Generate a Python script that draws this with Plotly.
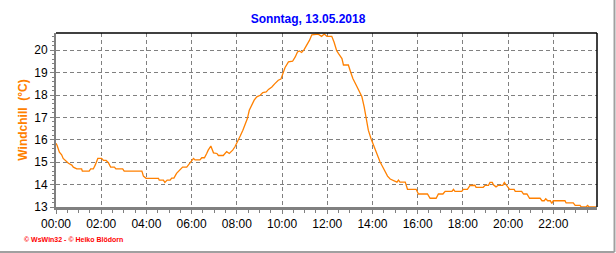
import plotly.graph_objects as go

# Time of day (minutes since midnight) and windchill values (°C)
minutes = [0, 3, 9, 15, 19, 27, 33, 42, 46, 55, 68, 70, 88, 92, 99, 104, 111, 121, 126, 133,
           139, 145, 155, 159, 177, 181, 228, 232, 239, 272, 274, 285, 289, 295, 303, 307, 313,
           320, 329, 336, 347, 356, 365, 369, 382, 387, 394, 400, 404, 411, 418, 427, 431, 444,
           453, 460, 469, 475, 481, 489, 496, 502, 508, 513, 520, 526, 533, 542, 549, 558, 564,
           573, 581, 590, 597, 602, 608, 617, 628, 635, 641, 646, 652, 659, 667, 673, 679, 696,
           705, 712, 719, 732, 738, 745, 750, 759, 763, 776, 782, 788, 797, 805, 812, 818, 823,
           829, 836, 841, 847, 853, 860, 867, 873, 880, 887, 896, 905, 909, 913, 927, 933, 956,
           962, 986, 993, 1009, 1015, 1027, 1033, 1051, 1055, 1059, 1077, 1081, 1092, 1099, 1112,
           1115, 1134, 1139, 1148, 1152, 1158, 1161, 1168, 1174, 1186, 1190, 1195, 1198, 1204,
           1216, 1219, 1236, 1241, 1250, 1257, 1285, 1290, 1296, 1300, 1305, 1312, 1316, 1320,
           1351, 1354, 1373, 1378, 1391, 1394, 1407, 1411, 1415, 1435]
windchill = [15.85, 15.75, 15.45, 15.33, 15.17, 15.02, 14.95, 14.87, 14.78, 14.7, 14.7, 14.6,
             14.6, 14.7, 14.7, 14.87, 15.17, 15.17, 15.08, 15.08, 14.98, 14.78, 14.78, 14.7,
             14.7, 14.6, 14.6, 14.38, 14.28, 14.28, 14.2, 14.2, 14.1, 14.2, 14.2, 14.29, 14.29,
             14.5, 14.68, 14.78, 14.78, 15.0, 15.17, 15.1, 15.1, 15.2, 15.2, 15.39, 15.54, 15.72,
             15.42, 15.39, 15.3, 15.3, 15.47, 15.39, 15.54, 15.69, 15.87, 16.17, 16.43, 16.66,
             16.95, 17.32, 17.55, 17.77, 17.92, 17.99, 18.11, 18.14, 18.25, 18.36, 18.51, 18.66,
             18.71, 18.96, 19.23, 19.48, 19.51, 19.7, 19.92, 19.97, 19.9, 20.04, 20.27, 20.45,
             20.69, 20.72, 20.62, 20.72, 20.62, 20.62, 20.37, 19.98, 19.85, 19.63, 19.34, 19.34,
             19.03, 18.74, 18.44, 18.14, 17.92, 17.47, 16.95, 16.43, 16.06, 15.84, 15.54, 15.27,
             15.02, 14.8, 14.57, 14.38, 14.25, 14.17, 14.11, 14.2, 14.11, 14.11, 13.79, 13.79,
             13.58, 13.58, 13.39, 13.39, 13.58, 13.58, 13.7, 13.7, 13.79, 13.7, 13.7, 13.79,
             13.79, 13.96, 13.97, 13.88, 13.88, 13.97, 13.97, 14.1, 14.1, 13.99, 13.9, 13.97,
             13.97, 14.1, 13.97, 13.9, 13.79, 13.79, 13.7, 13.7, 13.58, 13.58, 13.39, 13.39,
             13.28, 13.28, 13.37, 13.28, 13.28, 13.16, 13.28, 13.28, 13.18, 13.18, 13.07, 13.07,
             13.0, 13.0, 13.07, 13.0, 13.0]

tick_minutes = list(range(0, 1440, 120))
tick_labels = [f"{m // 60:02d}:00" for m in tick_minutes]
y_ticks = [13, 14, 15, 16, 17, 18, 19, 20]

title_text = "Sonntag, 13.05.2018"
y_title = "Windchill  (°C)"
footer = "© WsWin32 - © Heiko Blödorn"

fig = go.Figure()
fig.add_trace(go.Scatter(x=minutes, y=windchill, mode="lines",
                         line=dict(color="#FF8000", width=1.3), hoverinfo="skip"))

fig.update_layout(
    width=616, height=253,
    margin=dict(l=56, r=19, t=33, b=46),
    paper_bgcolor="white", plot_bgcolor="white",
    showlegend=False,
    font=dict(family="Liberation Sans, Arial", size=12, color="black"),
    title=dict(text=f"<b>{title_text}</b>", x=0.5, xanchor="center", y=1 - 19 / 253,
               yanchor="middle", font=dict(size=12, color="#0000FF")),
)

fig.update_xaxes(
    range=[0, 1436], tickvals=tick_minutes, ticktext=tick_labels,
    showgrid=True, gridcolor="#808080", griddash="4px,3px", gridwidth=1,
    showline=True, linecolor="#808080", linewidth=3,
    ticks="outside", ticklen=4, tickcolor="#808080", tickwidth=1,
    minor=dict(dtick=30, tick0=0, ticks="outside", ticklen=3, tickcolor="#808080", showgrid=False),
    tickfont=dict(size=12), zeroline=False, fixedrange=True,
)
fig.update_yaxes(
    range=[13, 20.77], tickvals=y_ticks,
    showgrid=True, gridcolor="#808080", griddash="4px,3px", gridwidth=1,
    showline=True, linecolor="#808080", linewidth=2,
    ticks="outside", ticklen=4, tickcolor="#808080", tickwidth=1,
    minor=dict(dtick=0.2, ticks="outside", ticklen=2, tickcolor="#808080", showgrid=False),
    tickfont=dict(size=12), zeroline=False,
    title=dict(text=f"<b>{y_title}</b>", font=dict(size=12, color="#FF8000"), standoff=4),
)

# black frame on top and right of the plot area
fig.add_shape(type="line", xref="paper", yref="paper", x0=0, x1=1, y0=1, y1=1,
              line=dict(color="black", width=1.5))
fig.add_shape(type="line", xref="paper", yref="paper", x0=1, x1=1, y0=0, y1=1,
              line=dict(color="black", width=1.5))

# gray outer frame at right and bottom of the picture
fig.add_shape(type="line", xref="paper", yref="paper",
              x0=-56 / 541, x1=(614.5 - 56) / 541, y0=-45 / 174, y1=-45 / 174,
              line=dict(color="#A0A0A0", width=2))
fig.add_shape(type="line", xref="paper", yref="paper",
              x0=(614.5 - 56) / 541, x1=(614.5 - 56) / 541, y0=-45 / 174, y1=33 / 174 + 1,
              line=dict(color="#A0A0A0", width=2))

fig.add_annotation(text=f"<b>{footer}</b>", xref="paper", yref="paper",
                   x=(22 - 56) / 541, y=(207 - 239) / 174, xanchor="left", yanchor="middle",
                   showarrow=False, font=dict(size=7, color="#FF0000"))

fig.write_html("out.html")
